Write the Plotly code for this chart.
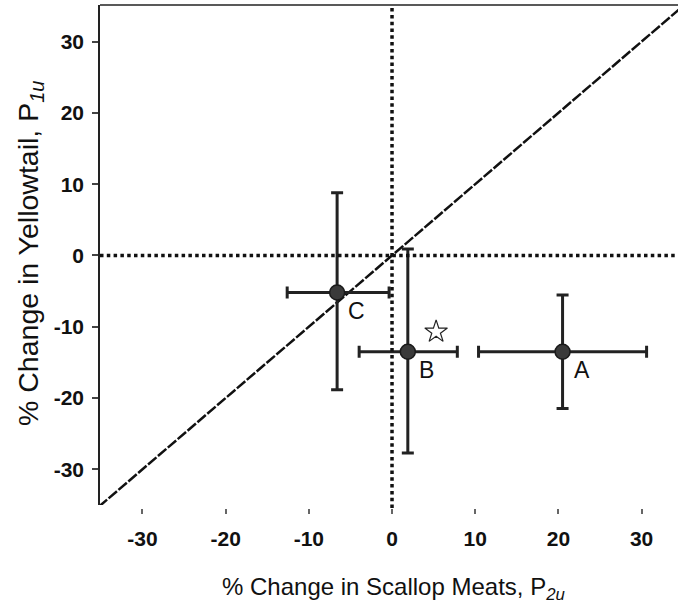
import plotly.graph_objects as go

# ---- data ----
labels = ["A", "B", "C"]
x_center = [20.5, 1.9, -6.6]
y_center = [-13.5, -13.5, -5.2]
x_err_plus = [10.1, 5.95, 6.25]
x_err_minus = [10.1, 5.85, 6.0]
y_err_plus = [7.95, 14.4, 14.0]
y_err_minus = [7.95, 14.2, 13.65]
star_x = [5.3]
star_y = [-10.7]
tick_vals = [-30, -20, -10, 0, 10, 20, 30]
tick_text = ["-30", "-20", "-10", "0", "10", "20", "30"]
diag = [-40, 40]

W, H = 678, 606
ml, mr, mt, mb = 100, 0, 5, 98
ph = H - mt - mb

fig = go.Figure()

# 1:1 dashed line
fig.add_trace(go.Scatter(x=diag, y=diag, mode="lines",
                         line=dict(color="#111", width=2.5, dash="11px,2px"),
                         hoverinfo="skip", showlegend=False))

# points with error bars
fig.add_trace(go.Scatter(
    x=x_center, y=y_center, mode="markers",
    marker=dict(size=15, color="#3a3a3a", line=dict(color="#1a1a1a", width=1.5)),
    error_x=dict(type="data", symmetric=False, array=x_err_plus, arrayminus=x_err_minus,
                 thickness=3, width=6, color="#222"),
    error_y=dict(type="data", symmetric=False, array=y_err_plus, arrayminus=y_err_minus,
                 thickness=3, width=6, color="#222"),
    showlegend=False))

# open star
fig.add_trace(go.Scatter(x=star_x, y=star_y, mode="markers",
                         marker=dict(symbol="star-open", size=17, color="#222",
                                     line=dict(width=1.2)),
                         showlegend=False))

for lab, xv, yv in zip(labels, x_center, y_center):
    fig.add_annotation(x=xv, y=yv, text=lab, showarrow=False, xshift=19, yshift=-18,
                       font=dict(family="Liberation Sans, Arial", size=23, color="#111"))

dotted = "3.5px,3.3px"
fig.add_shape(type="line", x0=0, x1=0, y0=0, y1=1, xref="x", yref="paper",
              line=dict(color="#111", width=3.5, dash=dotted))
fig.add_shape(type="line", x0=0, x1=1, y0=0, y1=0, xref="paper", yref="y",
              line=dict(color="#111", width=3.5, dash=dotted))
# top border
fig.add_shape(type="line", x0=0, x1=1, y0=1, y1=1, xref="paper", yref="paper",
              line=dict(color="#222", width=1.5))

tickfont = dict(family="Liberation Sans, Arial", size=21, color="#111", weight="bold")

fig.update_layout(
    width=W, height=H,
    margin=dict(l=ml, r=mr, t=mt, b=mb),
    paper_bgcolor="white", plot_bgcolor="white",
    xaxis=dict(range=[-35.1, 34.375], tickvals=tick_vals, ticktext=tick_text,
               showgrid=False, zeroline=False, showline=False,
               ticks="outside", ticklen=5, tickwidth=1.5, tickcolor="#666",
               anchor="free", position=0, tickfont=tickfont, ticklabelstandoff=7),
    yaxis=dict(range=[-35, 35.13], domain=[3 / ph, 1], tickvals=tick_vals, ticktext=tick_text,
               showgrid=False, zeroline=False, showline=True, linecolor="#222", linewidth=1.5,
               ticks="outside", ticklen=6, tickwidth=1.5, tickcolor="#444",
               tickfont=tickfont, ticklabelstandoff=4),
)

fig.add_annotation(text="% Change in Scallop Meats, P<sub><i>2u</i></sub>",
                   xref="paper", yref="paper", x=(393 - ml) / (W - ml - mr),
                   y=(H - mb - 588) / ph, showarrow=False, xanchor="center", yanchor="middle",
                   font=dict(family="Liberation Sans, Arial", size=24, color="#111"))
fig.add_annotation(text="% Change in Yellowtail, P<sub><i>1u</i></sub>",
                   xref="paper", yref="paper", x=(30 - ml) / (W - ml - mr),
                   y=(H - mb - 254) / ph, showarrow=False, xanchor="center", yanchor="middle",
                   textangle=-90, font=dict(family="Liberation Sans, Arial", size=28.5, color="#111"))

fig.write_html("out.html", config={"displayModeBar": False},
               post_script="document.body.style.margin='0';document.body.style.overflow='hidden';")
